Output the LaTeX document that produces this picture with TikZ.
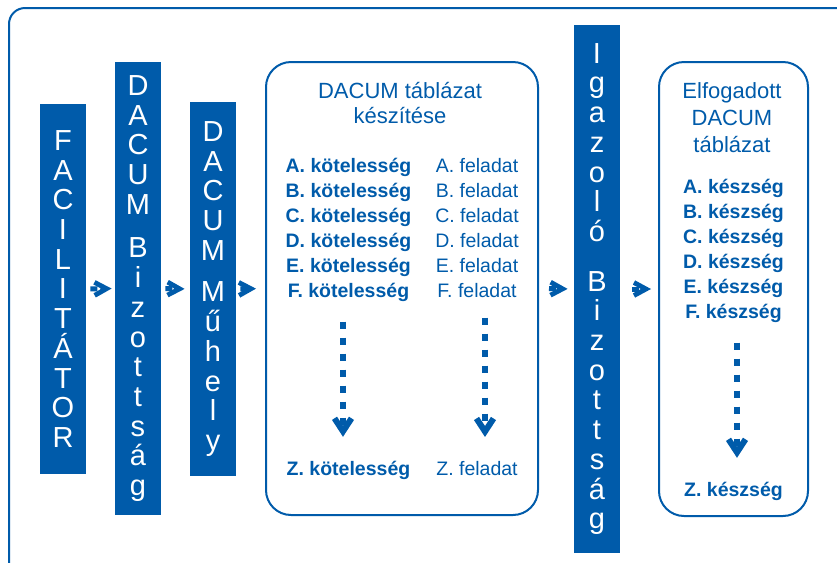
\documentclass[tikz,border=0pt]{standalone}
\usepackage{fontspec}
\setmainfont{Liberation Sans}
\usetikzlibrary{arrows.meta,positioning}
\definecolor{dacumblue}{RGB}{0,91,170}

\tikzset{
  bar/.style={fill=dacumblue, text=white, minimum width=23pt, inner sep=0pt,
    align=center, font=\fontsize{14.5}{14.85}\selectfont},
  tablebox/.style={draw=dacumblue, line width=1pt, rounded corners=12.5pt,
    minimum width=136pt, inner sep=0pt},
  boxtitle/.style={text=dacumblue, anchor=base, inner sep=0pt,
    font=\fontsize{11}{13}\selectfont},
  duty/.style={text=dacumblue, anchor=base, inner sep=0pt,
    font=\fontsize{9.75}{12}\selectfont\bfseries},
  task/.style={text=dacumblue, anchor=base, inner sep=0pt,
    font=\fontsize{9.75}{12}\selectfont},
  flowarrow/.style={dacumblue, line width=2.5pt, dash pattern=on 3.5pt off 1.5pt,
    -{Straight Barb[length=6pt,width=6.5pt,line width=2.4pt]}},
  dotarrow/.style={dacumblue, line width=3pt, dash pattern=on 3.5pt off 4.5pt,
    -{Straight Barb[length=6.5pt,width=8.5pt,line width=3pt]},
    shorten <=10pt, shorten >=11.75pt}
}

\begin{document}
\begin{tikzpicture}[x=0.5pt, y=-0.5pt]
\useasboundingbox (0,0) rectangle (837,563);
% outer frame, runs off the page at the right and bottom
\draw[dacumblue, line width=1pt, rounded corners=8pt] (9,8) rectangle (880,610);

% vertical bars
\node[bar, minimum height=185pt] (fac) at (63,289)
  {F\\A\\C\\I\\L\\I\\T\\Á\\T\\O\\R};
\node[bar, minimum height=226.5pt] (biz) at (138,288.5)
  {D\\A\\C\\U\\M\\[7pt]B\\i\\z\\o\\t\\t\\s\\á\\g};
\node[bar, minimum height=187pt] (muh) at (213,289)
  {D\\A\\C\\U\\M\\[6pt]M\\ű\\h\\e\\l\\y};
\node[bar, minimum height=264pt] (iga) at (597,289)
  {I\\g\\a\\z\\o\\l\\ó\\[10pt]B\\i\\z\\o\\t\\t\\s\\á\\g};

% rounded table boxes
\node[tablebox, minimum width=136pt, minimum height=226.5pt] (tbl) at (402,288.5) {};
\node[tablebox, minimum width=74.5pt, minimum height=227pt] (acc) at (733.5,289) {};

% DACUM table, title
\node[boxtitle] (tblA) at (400,98) {DACUM táblázat};
\node[boxtitle] (tblB) at (400,123) {készítése};

% duties left column
\node[duty] (dA) at (348.5,172) {A. kötelesség};
\node[duty] (dB) at (348.5,197) {B. kötelesség};
\node[duty] (dC) at (348.5,222) {C. kötelesség};
\node[duty] (dD) at (348.5,247) {D. kötelesség};
\node[duty] (dE) at (348.5,272) {E. kötelesség};
\node[duty] (dF) at (348.5,297) {F. kötelesség};
\node[duty] (dZ) at (348.5,475) {Z. kötelesség};

% tasks right column
\node[task] (tA) at (477,172) {A. feladat};
\node[task] (tB) at (477,197) {B. feladat};
\node[task] (tC) at (477,222) {C. feladat};
\node[task] (tD) at (477,247) {D. feladat};
\node[task] (tE) at (477,272) {E. feladat};
\node[task] (tF) at (477,297) {F. feladat};
\node[task] (tZ) at (477,475) {Z. feladat};

% accepted table
\node[boxtitle] (accA) at (732,98) {Elfogadott};
\node[boxtitle] (accB) at (732,125) {DACUM};
\node[boxtitle] (accC) at (732,152) {táblázat};
\node[duty] (sA) at (733.5,193) {A. készség};
\node[duty] (sB) at (733.5,218) {B. készség};
\node[duty] (sC) at (733.5,243) {C. készség};
\node[duty] (sD) at (733.5,268) {D. készség};
\node[duty] (sE) at (733.5,293) {E. készség};
\node[duty] (sF) at (733.5,318) {F. készség};
\node[duty] (sZ) at (733.5,496) {Z. készség};

% dotted arrows down the columns
\draw[dotarrow] ([xshift=-2.75pt]dF.south) -- ([xshift=-2.75pt]dZ.north);
\draw[dotarrow] ([xshift=4pt]tF.south) -- ([xshift=4pt]tZ.north);
\draw[dotarrow] ([xshift=1.75pt]sF.south) -- ([xshift=1.75pt]sZ.north);

% flow arrows between the steps
\draw[flowarrow, shorten <=2pt, shorten >=1.5pt] (fac.east) -- (biz.west);
\draw[flowarrow, shorten <=2pt, shorten >=2.5pt] (biz.east) -- (muh.west);
\draw[flowarrow, shorten <=2pt, shorten >=4.5pt] (muh.east) -- (tbl.west);
\draw[flowarrow, shorten <=5pt, shorten >=3pt] (tbl.east) -- (iga.west);
\draw[flowarrow, shorten <=6pt, shorten >=3.5pt] (iga.east) -- (acc.west);
\end{tikzpicture}
\end{document}
